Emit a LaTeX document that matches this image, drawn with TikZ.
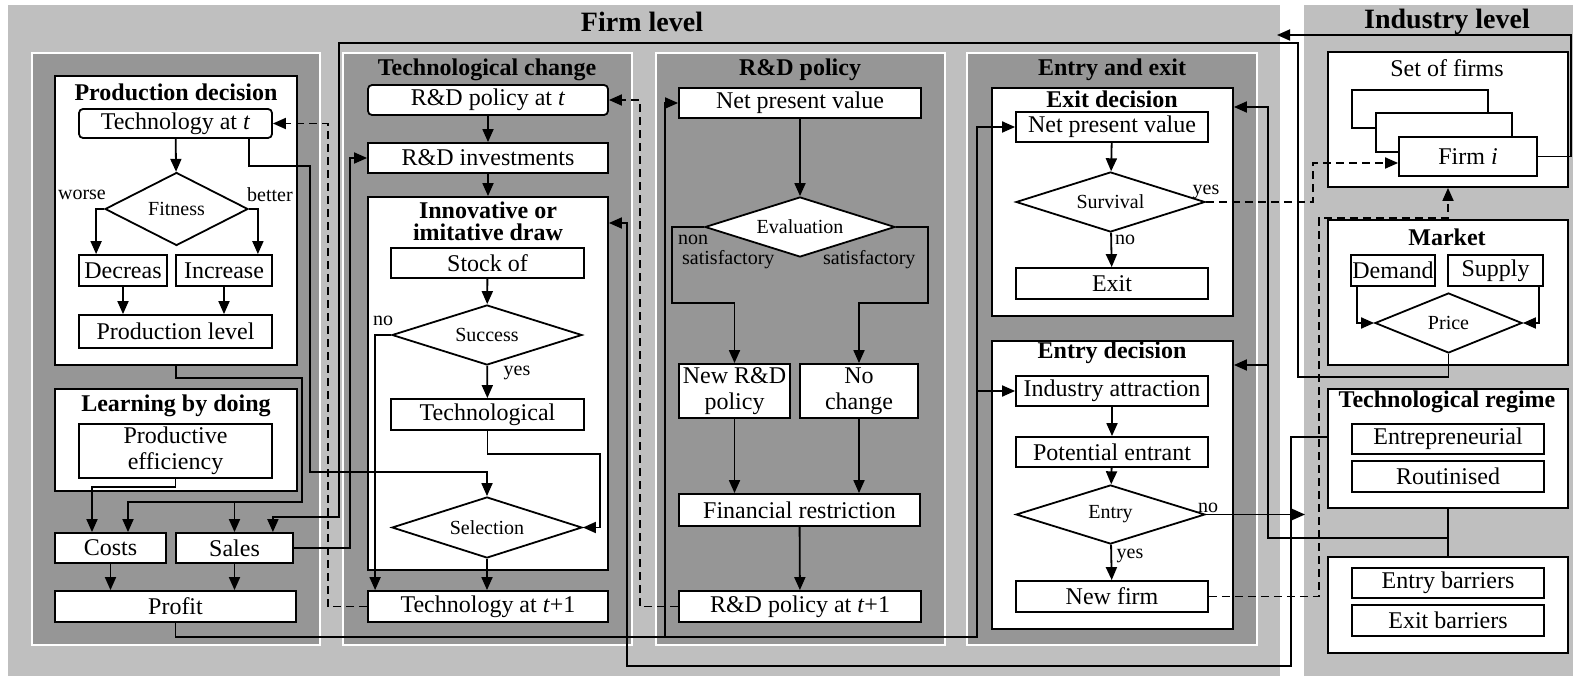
\documentclass[tikz,border=0pt]{standalone}
\usepackage{fontspec}
\setmainfont{Liberation Serif}
\usetikzlibrary{shapes.geometric,arrows.meta}

\definecolor{lgray}{gray}{0.75}
\definecolor{dgray}{gray}{0.59}

\begin{document}
\begin{tikzpicture}[
    x=1pt, y=-1pt,
    box/.style={draw, fill=white, line width=1.8pt, inner sep=0pt, align=center, font=\fontsize{24}{26}\selectfont},
    rbox/.style={box, rounded corners=4pt},
    group/.style={draw, fill=white, line width=1.8pt, inner sep=0pt},
    choice/.style={diamond, aspect=2.5, draw, fill=white, line width=1.8pt, inner sep=0pt, font=\fontsize{20}{22}\selectfont},
    head/.style={inner sep=0pt, align=center, font=\bfseries\fontsize{24}{22}\selectfont},
    big/.style={inner sep=0pt, font=\bfseries\fontsize{28}{30}\selectfont},
    txt/.style={inner sep=0pt, font=\fontsize{24}{26}\selectfont},
    lbl/.style={inner sep=0pt, font=\fontsize{20}{20}\selectfont},
    panel/.style={draw=white, line width=1.2pt, fill=dgray},
    link/.style={line width=1.8pt},
    arr/.style={link, -{Triangle[length=13pt,width=11pt]}},
    darr/.style={arr, dash pattern=on 8pt off 5pt}
]
\useasboundingbox (0,0) rectangle (1573,676);

% Levels
\fill[lgray] (8,5) rectangle (1280,676);
\fill[lgray] (1304,5) rectangle (1573,676);
\node[big] (firm) at (642,22) {Firm level};
\node[big] (ind) at (1447,22) {Industry level};

% Panels
\draw[panel] (32,53) rectangle (320,645);
\draw[panel] (343,53) rectangle (632,645);
\draw[panel] (656,53) rectangle (945,645);
\draw[panel] (967,53) rectangle (1257,645);
\node[head] (tch) at (487,70) {Technological change};
\node[head] (rdp) at (800,70) {R\&D policy};
\node[head] (eae) at (1112,70) {Entry and exit};

% Production decision
\node[group, minimum width=242pt, minimum height=289pt] (pd) at (176,220.5) {};
\node[head] (pdh) at (176,92) {Production decision};
\node[rbox, minimum width=193pt, minimum height=29pt] (tt) at (175.5,123.5) {Technology at \textit{t}};
\node[choice, minimum width=143pt, minimum height=73pt] (fit) at (176.5,209) {Fitness};
\node[lbl] (worse) at (82,195) {worse};
\node[lbl] (better) at (270,195) {better};
\node[box, minimum width=88pt, minimum height=31pt] (dcr) at (123,270.5) {Decreas};
\node[box, minimum width=96pt, minimum height=31pt] (inc) at (224,270.5) {Increase};
\node[box, minimum width=193pt, minimum height=33pt] (pl) at (175.5,331.5) {Production level};

% Learning by doing
\node[group, minimum width=242pt, minimum height=102pt] (lbd) at (176,440) {};
\node[head] (lbdh) at (176,406) {Learning by doing};
\node[box, minimum width=193pt, minimum height=54pt] (pe) at (175.5,451) {Productive\\efficiency};

\node[box, minimum width=111pt, minimum height=30pt] (co) at (110.5,548) {Costs};
\node[box, minimum width=117pt, minimum height=30pt] (sa) at (234.5,548) {Sales};
\node[box, minimum width=241pt, minimum height=31pt] (pr) at (175.5,606.5) {Profit};

% Technological change
\node[rbox, minimum width=240pt, minimum height=30pt] (rdt) at (488,100) {R\&D policy at \textit{t}};
\node[box, minimum width=240pt, minimum height=30pt] (rdi) at (488,158) {R\&D investments};
\node[group, minimum width=240pt, minimum height=373pt] (inn) at (488,383.5) {};
\node[head] (innh) at (488,221) {Innovative or\\imitative draw};
\node[box, minimum width=193pt, minimum height=30pt] (sk) at (487.5,263) {Stock of};
\node[choice, minimum width=190pt, minimum height=60pt] (suc) at (487,335) {Success};
\node[lbl] (sucno) at (383,321) {no};
\node[lbl] (sucyes) at (517,373) {yes};
\node[box, minimum width=193pt, minimum height=31pt] (tec) at (487.5,414.5) {Technological};
\node[choice, minimum width=190pt, minimum height=61pt] (sel) at (487,527.5) {Selection};
\node[box, minimum width=240pt, minimum height=31pt] (t1) at (488,606.5) {Technology at \textit{t}+1};

% R&D policy
\node[box, minimum width=242pt, minimum height=30pt] (npv1) at (800,103) {Net present value};
\node[choice, minimum width=190pt, minimum height=60pt] (ev) at (800,227) {Evaluation};
\node[lbl, anchor=base west] (evnon) at (678,245) {non};
\node[lbl, anchor=base west] (evns) at (682,265) {satisfactory};
\node[lbl, anchor=base west] (evs) at (823,265) {satisfactory};
\node[box, minimum width=111pt, minimum height=54pt] (nrd) at (734.5,391) {New R\&D\\policy};
\node[box, minimum width=118pt, minimum height=54pt] (nc) at (859,391) {No\\change};
\node[box, minimum width=241pt, minimum height=32pt] (fr) at (799.5,510) {Financial restriction};
\node[box, minimum width=242pt, minimum height=31pt] (rd1) at (800,606.5) {R\&D policy at \textit{t}+1};

% Entry and exit
\node[group, minimum width=241pt, minimum height=228pt] (exd) at (1112.5,202) {};
\node[head] (exdh) at (1112,99) {Exit decision};
\node[box, minimum width=192pt, minimum height=30pt] (npv2) at (1112,127) {Net present value};
\node[choice, minimum width=189pt, minimum height=60pt] (sur) at (1110.5,202) {Survival};
\node[lbl] (suryes) at (1206,192) {yes};
\node[lbl] (surno) at (1125,240) {no};
\node[box, minimum width=192pt, minimum height=31pt] (ex) at (1112,283.5) {Exit};
\node[group, minimum width=241pt, minimum height=288pt] (end) at (1112.5,485) {};
\node[head] (endh) at (1112,353) {Entry decision};
\node[box, minimum width=192pt, minimum height=30pt] (ia) at (1112,391) {Industry attraction};
\node[box, minimum width=192pt, minimum height=30pt] (pen) at (1112,452) {Potential entrant};
\node[choice, minimum width=189pt, minimum height=59pt] (ent) at (1110.5,514.5) {Entry};
\node[lbl] (entno) at (1208,508) {no};
\node[lbl] (entyes) at (1130,556) {yes};
\node[box, minimum width=192pt, minimum height=31pt] (nf) at (1112,596.5) {New firm};

% Industry level
\node[group, minimum width=240pt, minimum height=135pt] (sof) at (1448,119.5) {};
\node[txt] (sofh) at (1447,68) {Set of firms};
\node[box, minimum width=136pt, minimum height=38pt] (s1) at (1420,109) {};
\node[box, minimum width=136pt, minimum height=39pt] (s2) at (1444,132.5) {};
\node[box, minimum width=138pt, minimum height=39pt] (fi) at (1468,156.5) {Firm \textit{i}};
\node[group, minimum width=240pt, minimum height=145pt] (mk) at (1448,292.5) {};
\node[head] (mkh) at (1447,237) {Market};
\node[box, minimum width=84pt, minimum height=31pt] (dem) at (1393,270.5) {Demand};
\node[box, minimum width=95pt, minimum height=31pt] (sup) at (1495.5,270.5) {Supply};
\node[choice, minimum width=147pt, minimum height=60pt] (pri) at (1448.5,323) {Price};
\node[group, minimum width=240pt, minimum height=119pt] (tr) at (1448,448.5) {};
\node[head] (trh) at (1447,402) {Technological regime};
\node[box, minimum width=192pt, minimum height=30pt] (epr) at (1448,439) {Entrepreneurial};
\node[box, minimum width=192pt, minimum height=31pt] (rou) at (1448,476.5) {Routinised};
\node[group, minimum width=240pt, minimum height=96pt] (bar) at (1448,605) {};
\node[box, minimum width=192pt, minimum height=30pt] (eb) at (1448,583) {Entry barriers};
\node[box, minimum width=192pt, minimum height=31pt] (xb) at (1448,620.5) {Exit barriers};

\coordinate (fin) at (1277,35);
\coordinate (nin) at (1305,514.5);

% Inside production
\draw[arr] (tt) -- (fit);
\draw[arr] (fit.west) -| ([xshift=18pt]dcr.north west);
\draw[arr] (fit.east) -| ([xshift=-15pt]inc.north east);
\draw[arr] (dcr) -- (dcr |- pl.north);
\draw[arr] (inc) -- (inc |- pl.north);
\draw[arr] (pd.south) -- ++(0,12) -| (302,502) -| ([xshift=17.5pt]co.north);
\draw[arr] (sa.north |- 0,502) -- (sa.north);
\draw[arr] (pe.south) -- ++(0,8) -| ([xshift=-18.5pt]co.north);
\draw[arr] (co) -- (co |- pr.north);
\draw[arr] (sa) -- (sa |- pr.north);

% Inside technological change
\draw[arr] (rdt) -- (rdi);
\draw[arr] (rdi.south) -- (inn.north);
\draw[arr] (sk) -- (suc);
\draw[arr] (suc) -- (tec);
\draw[arr] (tec.south) -- ++(0,23) -| ([xshift=17pt]sel.east) -- (sel.east);
\draw[arr] (suc.west) -| ([xshift=8pt]t1.north west);
\draw[arr] (sel) -- (sel |- t1.north);

% Inside R&D policy
\draw[arr] (npv1) -- (ev);
\draw[arr] (ev.west) -| (672,303) -| (nrd.north);
\draw[arr] (ev.east) -| (928,303) -| (nc.north);
\draw[arr] (nrd) -- (nrd |- fr.north);
\draw[arr] (nc) -- (nc |- fr.north);
\draw[arr] (fr) -- (rd1);

% Inside entry and exit
\draw[arr] (npv2) -- (sur);
\draw[arr] (sur) -- (ex);
\draw[arr] (ia) -- (pen);
\draw[arr] (pen) -- (ent);
\draw[arr] (ent) -- (nf);

% Inside industry
\draw[arr] ([xshift=7pt]dem.south west) |- (pri.west);
\draw[arr] ([xshift=-5pt]sup.south east) |- (pri.east);
\draw[link] (tr) -- (bar);

% Between blocks
\draw[arr] (pri.south) -- ++(0,23) -| (1298,43) -| (339,517) -| ([xshift=-21pt]sa.north east);
\draw[arr] (fi.east) -| (1571,35) -- (fin);
\draw[arr] (sa.east) -| (350,158) -- (rdi.west);
\draw[arr] ([xshift=-24pt]tt.south east) -- ++(0,27) -| (310,472) -| (sel.north);
\draw[arr] (pr.south) -- ++(0,14) -| (977,127) -- (npv2.west);
\draw[arr] (665,636) |- (npv1.west);
\draw[arr] (977,391) -- (ia.west);
\draw[arr] ([yshift=11.5pt]tr.west) -| (1291,666) -| (627,223) -- (inn.east |- 0,223);
\draw[arr] (tr.south |- 0,538) -| (1268,107) -- (exd.east |- 0,107);
\draw[arr] (1268,365) -- (end.east |- 0,365);
\draw[arr] (ent.east) -- (nin);

% Feedback
\draw[darr] (t1.west) -| (328,123.5) -- (tt.east);
\draw[darr] (rd1.west) -| (640,100) -- (rdt.east);
\draw[darr] (sur.east) -| (1313,163) -- ([yshift=-6.5pt]fi.west);
\draw[darr] (nf.east) -| (1319,218) -| (sof.south);

\end{tikzpicture}
\end{document}
